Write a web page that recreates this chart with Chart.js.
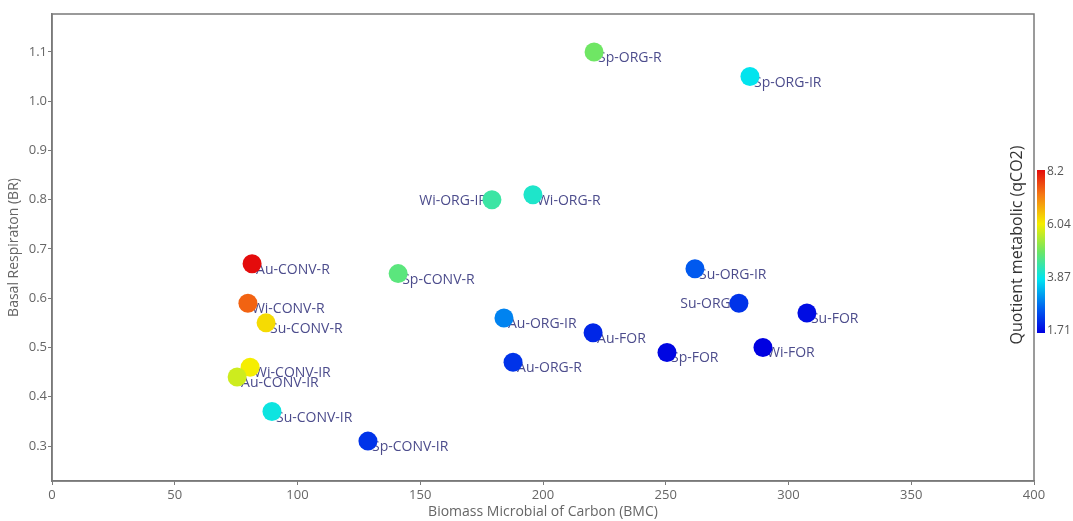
<!DOCTYPE html>
<html>
<head>
<meta charset="utf-8">
<script src="https://cdn.jsdelivr.net/npm/chart.js@4.4.1/dist/chart.umd.min.js"></script>
<style>
  html, body { margin: 0; padding: 0; background: #fff; }
  #wrap { width: 1073px; height: 521px; }
</style>
</head>
<body>
<div id="wrap"><canvas id="myChart" width="1073" height="521"></canvas></div>
<script>
//Sample names, biomass carbon (x), basal respiration (y) and metabolic quotient (colour)
var samples = ["Sp-ORG-R", "Sp-ORG-IR", "Wi-ORG-IR", "Wi-ORG-R", "Au-CONV-R", "Sp-CONV-R",
  "Wi-CONV-R", "Su-CONV-R", "Wi-CONV-IR", "Au-CONV-IR", "Su-CONV-IR", "Sp-CONV-IR",
  "Au-ORG-IR", "Au-ORG-R", "Au-FOR", "Su-ORG-IR", "Su-ORG-R", "Sp-FOR", "Wi-FOR", "Su-FOR"];
var bmc = [220.8, 284.3, 179.2, 195.9, 81.5, 141.0, 79.8, 87.2, 80.7, 75.4, 89.6, 128.7,
  184.1, 187.8, 220.4, 261.9, 279.8, 250.5, 289.6, 307.5];
var br = [1.10, 1.05, 0.80, 0.81, 0.67, 0.65, 0.59, 0.55, 0.46, 0.44, 0.37, 0.31,
  0.56, 0.47, 0.53, 0.66, 0.59, 0.49, 0.50, 0.57];
var qco2 = [4.96, 3.87, 4.45, 4.15, 8.2, 4.76, 7.42, 6.25, 6.06, 5.73, 3.98, 2.23,
  3.0, 2.23, 2.1, 2.62, 2.23, 1.77, 1.71, 1.84];

//Tick labels
var xTicks = [0, 50, 100, 150, 200, 250, 300, 350, 400];
var yTicks = [0.3, 0.4, 0.5, 0.6, 0.7, 0.8, 0.9, 1.0, 1.1];
var barTicks = ["8.2", "6.04", "3.87", "1.71"];

//labels drawn on the left of their dot (value = gap from dot centre)
var leftLabels = { "Wi-ORG-IR": -5, "Su-ORG-R": 5 };

//jet-like colour map
var stops = [
  [0.00, [0, 0, 225]],
  [0.15, [0, 95, 240]],
  [0.33, [0, 228, 240]],
  [0.50, [110, 230, 100]],
  [0.67, [245, 238, 0]],
  [0.85, [245, 120, 20]],
  [1.00, [228, 12, 12]]
];
var qMin = 1.71, qMax = 8.2;
function colourFor(v){
  var t = (v - qMin) / (qMax - qMin);
  t = Math.max(0, Math.min(1, t));
  for (var i = 1; i < stops.length; i++){
    if (t <= stops[i][0]){
      var a = stops[i-1], b = stops[i];
      var f = (t - a[0]) / (b[0] - a[0]);
      var c = a[1].map(function(x, k){ return Math.round(x + (b[1][k] - x) * f); });
      return "rgb(" + c.join(",") + ")";
    }
  }
  return "rgb(228,12,12)";
}

var points = samples.map(function(s, i){ return {x: bmc[i], y: br[i]}; });
var colours = qco2.map(colourFor);
var FONT = "'Open Sans', sans-serif";

//Draw sample names (under the dots)
var namePlugin = {
  id: "names",
  beforeDatasetsDraw: function(chart){
    var ctx = chart.ctx;
    var meta = chart.getDatasetMeta(0);
    ctx.save();
    ctx.font = "14px " + FONT;
    ctx.fillStyle = "#4c4c8c";
    ctx.textBaseline = "middle";
    meta.data.forEach(function(el, i){
      var name = samples[i];
      if (name in leftLabels){
        ctx.textAlign = "right";
        ctx.fillText(name, el.x + leftLabels[name], el.y + 1);
      } else {
        ctx.textAlign = "left";
        ctx.fillText(name, el.x + 4, el.y + 6);
      }
    });
    ctx.restore();
  }
};

//Frame around the plot and the colour bar
var framePlugin = {
  id: "frame",
  afterDraw: function(chart){
    var ctx = chart.ctx, a = chart.chartArea;
    ctx.save();
    ctx.strokeStyle = "#7a7a7a";
    ctx.lineWidth = 1.5;
    ctx.strokeRect(a.left, a.top, a.right - a.left, a.bottom - a.top);

    //colour bar
    var bx = 1037, bw = 8, top = 170, bot = 333;
    var g = ctx.createLinearGradient(0, bot, 0, top);
    stops.forEach(function(s){ g.addColorStop(s[0], "rgb(" + s[1].join(",") + ")"); });
    ctx.fillStyle = g;
    ctx.fillRect(bx, top, bw, bot - top);

    ctx.font = "12px " + FONT;
    ctx.fillStyle = "#555";
    ctx.textAlign = "left";
    ctx.textBaseline = "middle";
    barTicks.forEach(function(t, i){
      ctx.fillText(t, bx + bw + 2, top + 2 + i * (bot - top - 4) / (barTicks.length - 1));
    });

    ctx.translate(1017, 245);
    ctx.rotate(-Math.PI / 2);
    ctx.font = "16px " + FONT;
    ctx.fillStyle = "#333";
    ctx.textAlign = "center";
    ctx.fillText("Quotient metabolic (qCO2)", 0, 0);
    ctx.restore();
  }
};

var ctx = document.getElementById("myChart").getContext("2d");
var myChart = new Chart(ctx, {
  type: "scatter",
  data: {
    datasets: [{
      data: points,
      backgroundColor: colours,
      borderWidth: 0,
      pointRadius: 9.5,
      pointHoverRadius: 9.5
    }]
  },
  options: {
    responsive: false,
    animation: false,
    layout: { padding: { top: 14, right: 39, left: 0, bottom: 0 } },
    plugins: { legend: { display: false }, tooltip: { enabled: false } },
    scales: {
      x: {
        min: 0, max: 400,
        afterBuildTicks: function(s){ s.ticks = xTicks.map(function(v){ return {value: v}; }); },
        afterFit: function(s){ s.height = 40; },
        grid: { drawOnChartArea: false, drawTicks: true, tickLength: 4, color: "#7a7a7a" },
        border: { color: "#7a7a7a", width: 1.5 },
        ticks: { color: "#666", font: { size: 13, family: FONT }, padding: 2 },
        title: { display: true, text: "Biomass Microbial of Carbon (BMC)", color: "#666",
                 font: { size: 14, family: FONT }, padding: { top: 0, bottom: 1 } }
      },
      y: {
        min: 0.229, max: 1.177,
        afterBuildTicks: function(s){ s.ticks = yTicks.map(function(v){ return {value: v}; }); },
        afterFit: function(s){ s.width = 52; },
        grid: { drawOnChartArea: false, drawTicks: true, tickLength: 4, color: "#7a7a7a" },
        border: { color: "#7a7a7a", width: 1.5 },
        ticks: { color: "#666", font: { size: 13, family: FONT }, padding: 1,
                 callback: function(v){ return Number(v).toFixed(1); } },
        title: { display: true, text: "Basal Respiraton (BR)", color: "#666",
                 font: { size: 14, family: FONT }, padding: { top: 6, bottom: 0 } }
      }
    }
  },
  plugins: [namePlugin, framePlugin]
});
</script>
</body>
</html>
